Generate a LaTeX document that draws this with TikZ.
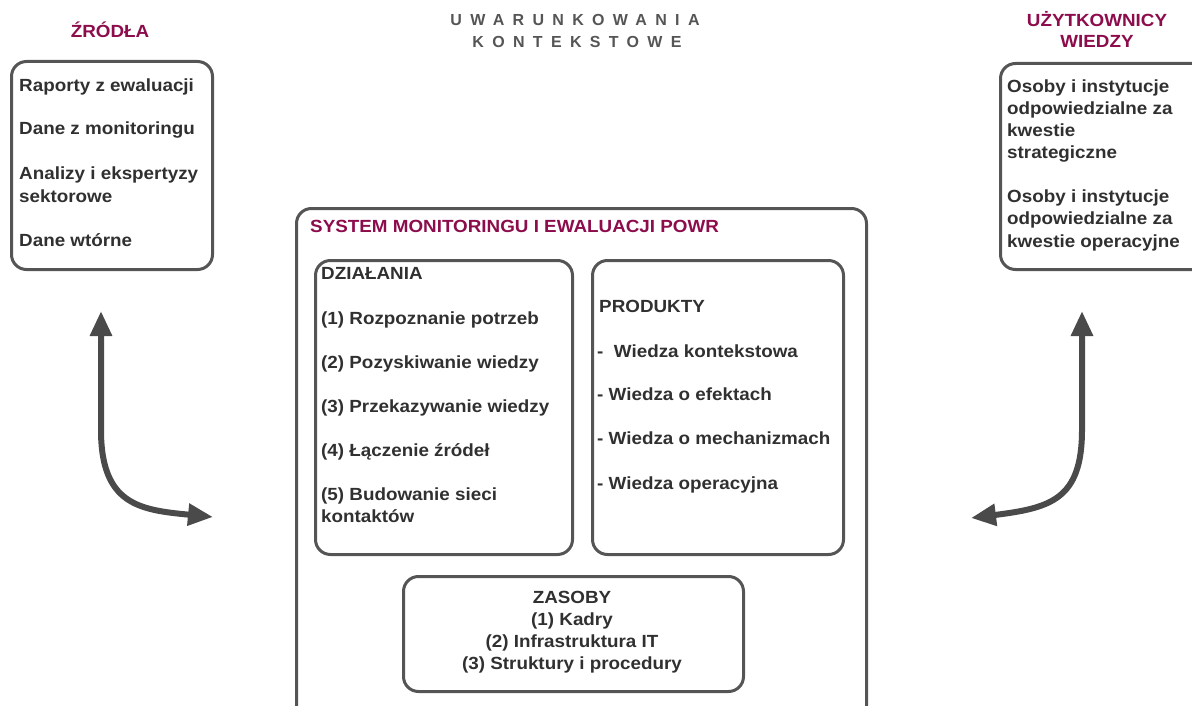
\documentclass[tikz,border=0pt]{standalone}
\usepackage{fontspec}
\setmainfont{Liberation Sans}[FakeStretch=1.07]
\newfontfamily\spaced{Liberation Sans}[LetterSpace=52]
\usetikzlibrary{arrows.meta}
\definecolor{plum}{RGB}{140,12,76}
\definecolor{ink}{RGB}{48,48,48}
\definecolor{frame}{RGB}{85,85,85}
\definecolor{arr}{RGB}{74,74,74}
\tikzset{
    box/.style={draw=frame, line width=3pt, rounded corners=15pt, anchor=north west, inner sep=0pt},
    item/.style={anchor=base west, inner sep=0pt, text=ink, font=\bfseries\fontsize{17.6}{20}\selectfont},
    head/.style={anchor=base, inner sep=0pt, text=plum, font=\bfseries\fontsize{17.6}{20}\selectfont},
    spacedtitle/.style={anchor=base, inner sep=0pt, text=frame, font=\spaced\bfseries\fontsize{16}{20}\selectfont},
    bigarrow/.style={draw=arr, line width=6pt, {Triangle[length=25pt,width=21pt]}-{Triangle[length=25pt,width=21pt]}}
}
\begin{document}
\begin{tikzpicture}[x=1pt,y=-1pt]
\useasboundingbox (0,0) rectangle (1192,706);
\clip (0,0) rectangle (1192,706);

% titles
\node[head] (zrodla) at (110,38) {ŹRÓDŁA};
\node[head] (uzyt1) at (1097,27) {UŻYTKOWNICY};
\node[head] (uzyt2) at (1097,48) {WIEDZY};
\node[spacedtitle] (uwar1) at (575,26) {UWARUNKOWANIA};
\node[spacedtitle] (uwar2) at (577,48) {KONTEKSTOWE};

% boxes
\node[box, minimum width=201, minimum height=208] (srcbox) at (10,60) {};
\node[box, minimum width=220, minimum height=206] (usrbox) at (999,62) {};
\node[box, minimum width=570, minimum height=520] (sysbox) at (295,207) {};
\node[box, minimum width=257, minimum height=294] (dzbox) at (314,259) {};
\node[box, minimum width=251, minimum height=294] (prbox) at (591,259) {};
\node[box, minimum width=340, minimum height=115] (zsbox) at (402,575) {};

% sources
\node[item] (src1) at (19,92) {Raporty z ewaluacji};
\node[item] (src2) at (19,135) {Dane z monitoringu};
\node[item] (src3) at (19,180) {Analizy i ekspertyzy};
\node[item] (src4) at (19,202) {sektorowe};
\node[item] (src5) at (19,246) {Dane wtórne};

% users
\node[item] (usr1) at (1007,93) {Osoby i instytucje};
\node[item] (usr2) at (1007,115) {odpowiedzialne za};
\node[item] (usr3) at (1007,137) {kwestie};
\node[item] (usr4) at (1007,159) {strategiczne};
\node[item] (usr5) at (1007,203) {Osoby i instytucje};
\node[item] (usr6) at (1007,225) {odpowiedzialne za};
\node[item] (usr7) at (1007,247) {kwestie operacyjne};

% system
\node[head, anchor=base west] (systitle) at (310,232) {SYSTEM MONITORINGU I EWALUACJI POWR};
\node[item] (dz0) at (321,279) {DZIAŁANIA};
\node[item] (dz1) at (321,324) {(1) Rozpoznanie potrzeb};
\node[item] (dz2) at (321,368) {(2) Pozyskiwanie wiedzy};
\node[item] (dz3) at (321,412) {(3) Przekazywanie wiedzy};
\node[item] (dz4) at (321,456) {(4) Łączenie źródeł};
\node[item] (dz5) at (321,500) {(5) Budowanie sieci};
\node[item] (dz6) at (321,522) {kontaktów};
\node[item] (pr0) at (599,312) {PRODUKTY};
\node[item] (pr1) at (597,357) {-\ \ Wiedza kontekstowa};
\node[item] (pr2) at (597,400) {- Wiedza o efektach};
\node[item] (pr3) at (597,444) {- Wiedza o mechanizmach};
\node[item] (pr4) at (597,489) {- Wiedza operacyjna};
\node[item, anchor=base] (zs0) at (572,603) {ZASOBY};
\node[item, anchor=base] (zs1) at (572,625) {(1) Kadry};
\node[item, anchor=base] (zs2) at (572,647) {(2) Infrastruktura IT};
\node[item, anchor=base] (zs3) at (572,669) {(3) Struktury i procedury};

% arrows
\coordinate (srctip) at (101,311);
\coordinate (srcbend) at (101,430);
\coordinate (systip) at (213,517);
\coordinate (usrtip) at (1082,311);
\coordinate (usrbend) at (1082,430);
\coordinate (systip2) at (971,518);
\draw[bigarrow] (srctip) -- (srcbend) .. controls (101,505) and (140,510) .. (systip);
\draw[bigarrow] (usrtip) -- (usrbend) .. controls (1082,500) and (1050,508) .. (systip2);
\end{tikzpicture}
\end{document}
